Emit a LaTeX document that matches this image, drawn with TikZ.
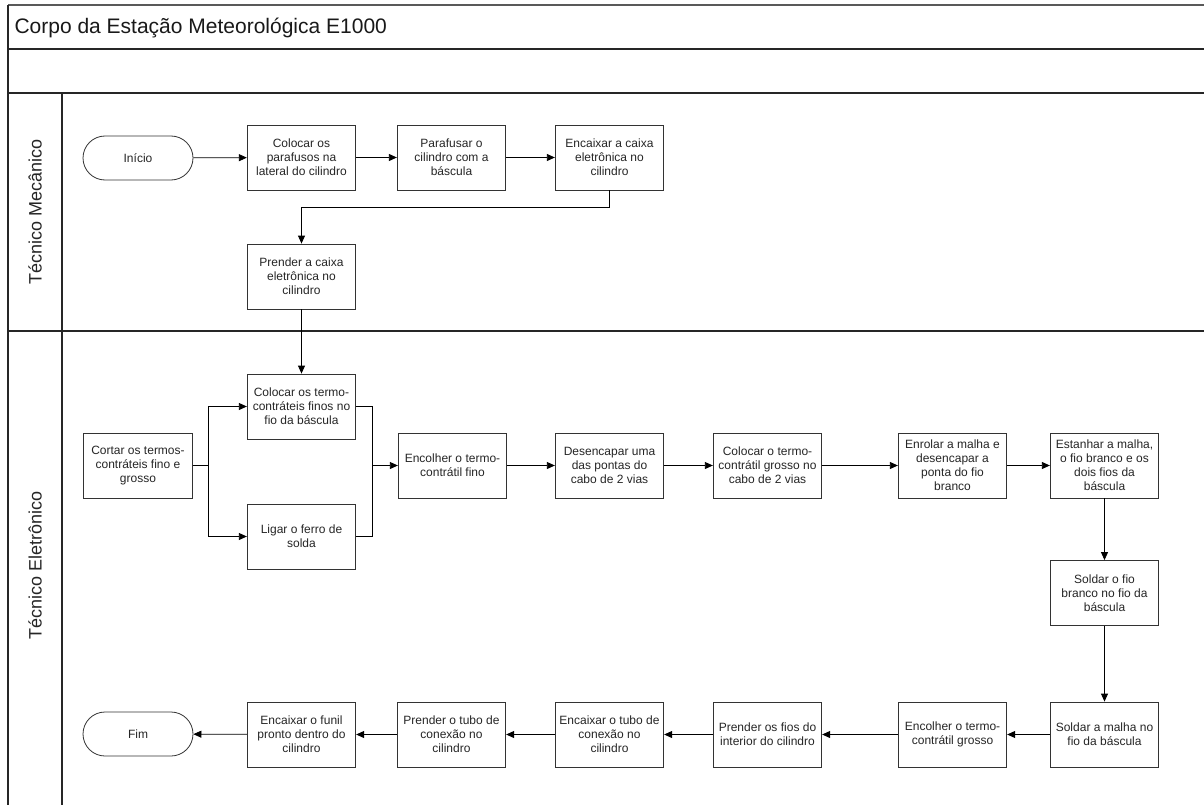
\documentclass[tikz,border=0pt]{standalone}
\usepackage{fontspec}
\setmainfont{Liberation Sans}
\usetikzlibrary{arrows.meta,shapes.misc}
\begin{document}
\begin{tikzpicture}[x=1pt,y=-1pt,
  frame/.style={line width=1.1pt,draw=black!85},
  stepbox/.style={draw=black!80,line width=0.8pt,minimum width=108.5pt,minimum height=65pt,inner sep=0pt,align=center,text=black!85,font=\fontsize{12}{14}\selectfont},
  term/.style={draw=black!80,line width=0.8pt,rounded rectangle,minimum width=110pt,minimum height=44pt,inner sep=0pt,text=black!85,font=\fontsize{12}{14}\selectfont},
  lanelabel/.style={rotate=90,text=black!85,font=\fontsize{18}{20}\selectfont},
  conn/.style={line width=0.8pt,draw=black},
  arr/.style={conn,-{Triangle[length=8pt,width=7pt]}}
]
\useasboundingbox (0,0) rectangle (1204,805);
\fill[white] (0,0) rectangle (1204,805);
% frame
\draw[frame,draw=black!65] (8,5) -- (1204,5);
\draw[frame] (8,5) -- (8,805);
\draw[frame] (8,49) -- (1204,49);
\draw[frame] (8,93) -- (1204,93);
\draw[frame] (8,331) -- (1204,331);
\draw[frame] (62,93) -- (62,805);
\node[anchor=west,text=black!90,font=\fontsize{21}{24}\selectfont] (title) at (11,27.5) {Corpo da Estação Meteorológica E1000};
\node[lanelabel] (lane1) at (35,212) {Técnico Mecânico};
\node[lanelabel] (lane2) at (35,565) {Técnico Eletrônico};
% lane 1
\node[term] (ini) at (138,158) {Início};
\node[stepbox] (a1) at (301.5,157.5) {Colocar os\\parafusos na\\lateral do cilindro};
\node[stepbox] (a2) at (451.5,157.5) {Parafusar o\\cilindro com a\\báscula};
\node[stepbox] (a3) at (609.5,157.5) {Encaixar a caixa\\eletrônica no\\cilindro};
\node[stepbox] (a4) at (301.5,276.5) {Prender a caixa\\eletrônica no\\cilindro};
% lane 2
\node[stepbox] (b0) at (138,465.5) {Cortar os termos-\\contráteis fino e\\grosso};
\node[stepbox] (b1) at (301.5,406.5) {Colocar os termo-\\contráteis finos no\\fio da báscula};
\node[stepbox] (b2) at (301.5,536.5) {Ligar o ferro de\\solda};
\node[stepbox] (b3) at (452.5,465.5) {Encolher o termo-\\contrátil fino};
\node[stepbox] (b4) at (609.5,465.5) {Desencapar uma\\das pontas do\\cabo de 2 vias};
\node[stepbox] (b5) at (767.5,465.5) {Colocar o termo-\\contrátil grosso no\\cabo de 2 vias};
\node[stepbox] (b6) at (952.5,465.5) {Enrolar a malha e\\desencapar a\\ponta do fio\\branco};
\node[stepbox] (b7) at (1104.5,465.5) {Estanhar a malha,\\o fio branco e os\\dois fios da\\báscula};
\node[stepbox] (b8) at (1104.5,593) {Soldar o fio\\branco no fio da\\báscula};
\node[stepbox] (b9) at (1104.5,734.5) {Soldar a malha no\\fio da báscula};
\node[stepbox] (c1) at (952.5,734.5) {Encolher o termo-\\contrátil grosso};
\node[stepbox] (c2) at (767.5,734.5) {Prender os fios do\\interior do cilindro};
\node[stepbox] (c3) at (609.5,734.5) {Encaixar o tubo de\\conexão no\\cilindro};
\node[stepbox] (c4) at (451.5,734.5) {Prender o tubo de\\conexão no\\cilindro};
\node[stepbox] (c5) at (301.5,734.5) {Encaixar o funil\\pronto dentro do\\cilindro};
\node[term] (fim) at (138,734) {Fim};
% connectors lane 1
\draw[arr] (ini) -- (a1);
\draw[arr] (a1) -- (a2);
\draw[arr] (a2) -- (a3);
\coordinate (k1) at (609.5,207);
\coordinate (k2) at (301.5,207);
\draw[arr] (a3.south) -- (k1) -- (k2) -- (a4.north);
\draw[arr] (a4.south) -- (b1.north);
% split
\coordinate (s) at (208,465.5);
\draw[conn] (b0.east) -- (s);
\draw[arr] (s) |- (b1.west);
\draw[arr] (s) |- (b2.west);
% join
\coordinate (j) at (372,465.5);
\draw[conn] (b1.east) -| (j);
\draw[conn] (b2.east) -| (j);
\draw[arr] (j) -- (b3.west);
\draw[arr] (b3) -- (b4);
\draw[arr] (b4) -- (b5);
\draw[arr] (b5) -- (b6);
\draw[arr] (b6) -- (b7);
\draw[arr] (b7) -- (b8);
\draw[arr] (b8) -- (b9);
\draw[arr] (b9) -- (c1);
\draw[arr] (c1) -- (c2);
\draw[arr] (c2) -- (c3);
\draw[arr] (c3) -- (c4);
\draw[arr] (c4) -- (c5);
\draw[arr] (c5) -- (fim);
\end{tikzpicture}
\end{document}
